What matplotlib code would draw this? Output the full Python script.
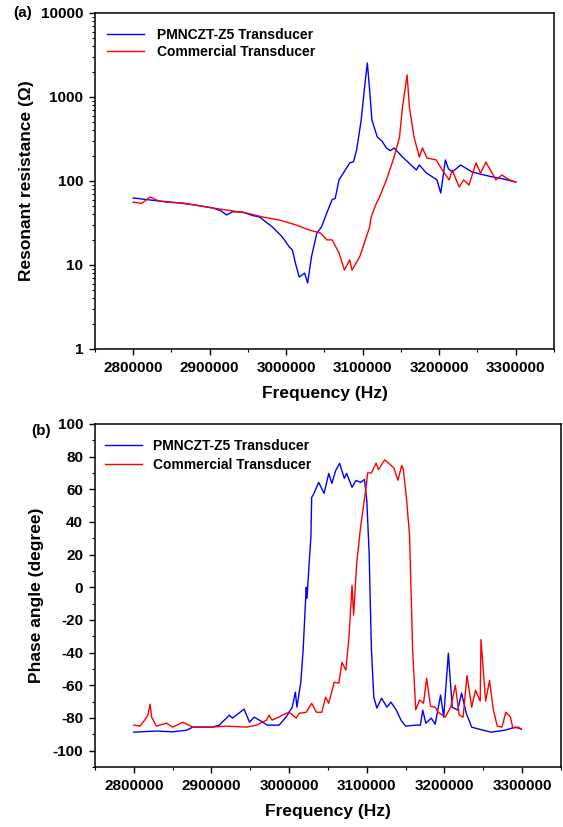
import matplotlib
matplotlib.use('Agg')
import matplotlib.pyplot as plt
from matplotlib.ticker import MultipleLocator, LogLocator, NullFormatter

plt.rcParams['font.family'] = ['Liberation Sans', 'DejaVu Sans']
plt.rcParams['font.weight'] = 'bold'

# (a) resonant resistance (ohm) vs frequency (Hz)
freq_a_pmn = [2800000, 2822000, 2840000, 2861000, 2885000, 2904000, 2915000, 2922000, 2930000, 2943000,
              2955000, 2965000, 2982000, 2995000, 3004000, 3008000, 3012000, 3017000, 3024000,
              3028000, 3033000, 3040000, 3046000, 3053000, 3060000, 3064000, 3069000, 3076000, 3083000,
              3088000, 3092000, 3098000, 3102000, 3106000, 3109000, 3112000, 3119000, 3125000, 3131000,
              3136000, 3141000, 3152000, 3160000, 3170000, 3174000, 3183000, 3191000, 3197000,
              3202000, 3208000, 3212000, 3217000, 3228000, 3243000, 3255000, 3269000, 3285000, 3300000]
res_a_pmn = [62.8, 59.4, 57.0, 54.7, 51.0, 47.7, 44.0, 39.4, 43.0, 42.7,
             39.0, 37.3, 28.3, 21.5, 16.4, 15.1, 10.5, 7.2, 8.0,
             6.1, 12.5, 24.0, 28.3, 41.6, 60.0, 62.0, 103, 130, 164,
             170, 234, 532, 1211, 2540, 1211, 532, 334, 300, 247,
             230, 247, 193, 165, 135, 155, 125, 112, 103,
             72, 178, 140, 128, 155, 128, 120, 112, 105, 97]

freq_a_com = [2800000, 2811000, 2822000, 2833000, 2844000, 2865000, 2904000, 2948000, 2969000,
              2991000, 3013000, 3030000, 3045000, 3053000, 3060000, 3069000, 3076000, 3083000,
              3086000, 3096000, 3109000, 3111000, 3118000, 3122000, 3131000, 3141000, 3148000,
              3152000, 3158000, 3161000, 3167000, 3174000, 3178000, 3184000, 3196000, 3204000,
              3213000, 3217000, 3226000, 3232000, 3239000, 3248000, 3254000, 3261000, 3274000,
              3282000, 3290000, 3300000]
res_a_com = [56.2, 54.0, 64.5, 58.0, 56.0, 54.7, 47.7, 41.6, 37.3,
             34.3, 29.9, 26.1, 24.0, 19.9, 19.9, 13.9, 8.7, 11.5,
             8.7, 12.5, 28.3, 37.3, 54.7, 64.5, 103, 193, 330,
             760, 1828, 760, 334, 193, 247, 188, 178, 135,
             103, 135, 84.9, 103, 89.6, 164, 124, 168, 103,
             118, 105, 97]

# (b) phase angle (degree) vs frequency (Hz)
freq_b_pmn = [2800000, 2830000, 2850000, 2868000, 2876000, 2901000, 2910000, 2923000, 2927000, 2942000, 2949000,
              2955000, 2964000, 2972000, 2987000, 2996000, 3004000, 3008000, 3010000, 3015000,
              3018000, 3022000, 3023000, 3026000, 3028000, 3029000, 3032000, 3038000, 3045000,
              3051000, 3055000, 3060000, 3065000, 3071000, 3074000, 3081000, 3086000, 3092000,
              3097000, 3100000, 3103000, 3105000, 3106000, 3109000, 3113000, 3119000, 3126000,
              3131000, 3138000, 3144000, 3150000, 3163000, 3169000, 3172000, 3176000, 3183000,
              3188000, 3195000, 3199000, 3205000, 3210000, 3217000, 3222000, 3228000, 3235000,
              3244000, 3260000, 3278000, 3291000, 3299000]
phase_b_pmn = [-88.7, -88.0, -88.5, -87.5, -85.6, -85.6, -84.4, -78.3, -80.1, -74.6, -82.6,
               -79.5, -82.0, -84.4, -84.4, -79.5, -73.4, -64.2, -73.4, -58.1,
               -38.5, 0.0, -6.7, 16.5, 30.6, 55.0, 57.5, 64.2, 57.5,
               69.7, 63.6, 71.6, 75.8, 66.7, 69.7, 61.2, 65.4, 64.2,
               66.0, 53.2, 20.8, -20.2, -38.5, -67.3, -74.0, -67.9, -73.4,
               -70.3, -75.2, -81.3, -85.0, -84.4, -84.4, -75.2, -83.2, -80.1,
               -83.8, -66.0, -79.5, -40.4, -73.4, -75.2, -64.8, -77.0, -85.6,
               -86.8, -88.7, -87.5, -85.6, -86.8]

freq_b_com = [2800000, 2808000, 2814000, 2818000, 2821000, 2823000, 2829000, 2842000, 2850000,
              2863000, 2868000, 2876000, 2901000, 2919000, 2945000, 2958000, 2971000, 2974000,
              2978000, 2987000, 2991000, 3000000, 3009000, 3013000, 3022000, 3029000, 3035000,
              3042000, 3047000, 3051000, 3058000, 3064000, 3068000, 3073000, 3077000, 3081000,
              3083000, 3087000, 3092000, 3099000, 3101000, 3106000, 3112000, 3115000, 3123000,
              3128000, 3135000, 3140000, 3145000, 3147000, 3151000, 3155000, 3158000, 3159000,
              3163000, 3168000, 3173000, 3177000, 3182000, 3188000, 3192000, 3201000, 3208000,
              3214000, 3219000, 3224000, 3229000, 3235000, 3240000, 3246000, 3247000, 3253000,
              3258000, 3263000, 3268000, 3274000, 3279000, 3285000, 3288000, 3295000, 3299000]
phase_b_com = [-84.4, -85.0, -81.3, -78.3, -71.6, -79.5, -85.0, -83.2, -85.6,
               -82.6, -83.8, -85.6, -85.6, -85.0, -85.6, -84.4, -81.3, -78.3,
               -81.3, -79.5, -78.3, -76.5, -80.1, -77.1, -76.5, -71.0, -76.5,
               -76.5, -67.3, -71.0, -58.1, -58.7, -45.9, -50.8, -30.6, 1.2,
               -17.1, 15.0, 37.0, 61.0, 70.0, 70.0, 76.0, 72.0, 78.0,
               76.0, 73.0, 65.5, 74.6, 72.0, 55.0, 31.8, -20.0, -38.5,
               -75.0, -69.0, -71.0, -55.7, -72.8, -73.4, -76.5, -79.5, -73.4,
               -60.0, -78.3, -79.5, -54.0, -73.4, -63.0, -69.7, -32.0, -69.7,
               -57.0, -75.2, -85.0, -85.6, -76.5, -79.5, -86.2, -85.6, -86.8]

x_ticks = [2800000, 2900000, 3000000, 3100000, 3200000, 3300000]
x_labels = ['2800000', '2900000', '3000000', '3100000', '3200000', '3300000']
ya_ticks = [1, 10, 100, 1000, 10000]
ya_labels = ['1', '10', '100', '1000', '10000']
yb_ticks = list(range(-100, 101, 20))

label_pmn = 'PMNCZT-Z5 Transducer'
label_com = 'Commercial Transducer'

fig = plt.figure(figsize=(5.63, 8.27), dpi=100)
ax1 = fig.add_axes([0.1687, 0.578, 0.8153, 0.4063])
ax2 = fig.add_axes([0.1687, 0.0726, 0.8277, 0.4148])

for ax in (ax1, ax2):
    for sp in ax.spines.values():
        sp.set_linewidth(1.1)
    ax.tick_params(which='major', direction='out', length=4.5, width=1.0, labelsize=11, pad=4)
    ax.tick_params(which='minor', direction='out', length=2.5, width=0.8)
    ax.set_xlim(2750000, 3350000)
    ax.set_xticks(x_ticks)
    ax.set_xticklabels(x_labels, fontweight='bold')
    ax.xaxis.set_minor_locator(MultipleLocator(50000))
    ax.set_xlabel('Frequency (Hz)', fontsize=12.5, fontweight='bold', labelpad=8)

# panel (a)
ax1.plot(freq_a_pmn, res_a_pmn, color='#0000ff', lw=1.0, label=label_pmn)
ax1.plot(freq_a_com, res_a_com, color='#ff0000', lw=1.0, label=label_com)
ax1.set_yscale('log')
ax1.set_ylim(1, 10000)
ax1.set_yticks(ya_ticks)
ax1.set_yticklabels(ya_labels, fontweight='bold')
ax1.yaxis.set_minor_locator(LogLocator(base=10, subs=range(2, 10)))
ax1.yaxis.set_minor_formatter(NullFormatter())
ax1.set_ylabel('Resonant resistance (\u03a9)', fontsize=12.5, fontweight='bold', labelpad=5)
ax1.legend(loc='upper left', bbox_to_anchor=(0.005, 0.985), frameon=False,
           handlelength=2.7, handletextpad=0.9, labelspacing=0.25, borderpad=0.2,
           prop={'weight': 'bold', 'size': 10})
fig.text(0.023, 0.984, '(a)', fontsize=11, fontweight='bold', ha='left', va='center')

# panel (b)
ax2.plot(freq_b_pmn, phase_b_pmn, color='#0000ff', lw=1.0, label=label_pmn)
ax2.plot(freq_b_com, phase_b_com, color='#ff0000', lw=1.0, label=label_com)
ax2.set_ylim(-110, 100)
ax2.set_yticks(yb_ticks)
ax2.set_yticklabels([str(v) for v in yb_ticks], fontweight='bold')
ax2.yaxis.set_minor_locator(MultipleLocator(10))
ax2.set_ylabel('Phase angle (degree)', fontsize=12.5, fontweight='bold', labelpad=6)
ax2.legend(loc='upper left', bbox_to_anchor=(0.0, 0.985), frameon=False,
           handlelength=2.7, handletextpad=0.8, labelspacing=0.4, borderpad=0.2,
           prop={'weight': 'bold', 'size': 10})
fig.text(0.055, 0.479, '(b)', fontsize=11, fontweight='bold', ha='left', va='center')

fig.savefig('out.png', dpi=100)
